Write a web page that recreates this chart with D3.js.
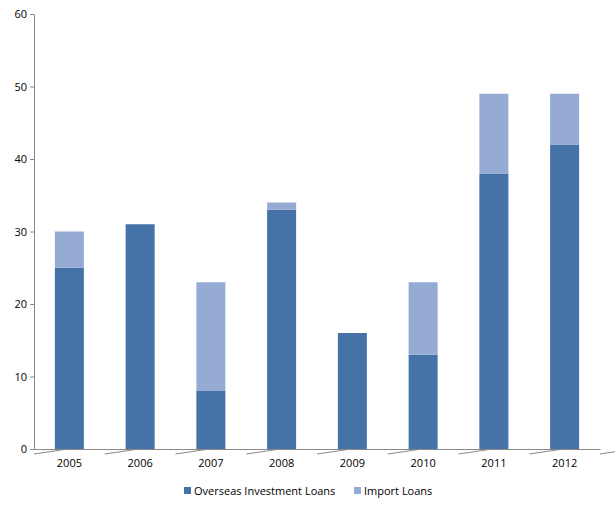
<!DOCTYPE html>
<html><head><meta charset="utf-8">
<script src="https://cdn.jsdelivr.net/npm/d3@7"></script>
<style>body{margin:0;background:#fff}text{font-family:"Open Sans",sans-serif;font-size:11px;fill:#000}</style>
</head><body><div id="wrapper"></div>
<script>
const years = ['2005','2006','2007','2008','2009','2010','2011','2012']
const overseas = [25, 31, 8, 33, 16, 13, 38, 42]
const imports = [5, 0, 15, 1, 0, 10, 11, 7]
const yTicks = [0, 10, 20, 30, 40, 50, 60]
const seriesNames = ['Overseas Investment Loans', 'Import Loans']
const colors = ['#4573a7', '#95abd3']

const width = 615, height = 511
const margin = {top: 14, right: 15, bottom: 62, left: 34}
const svg = d3.select('#wrapper').append('svg').attr('width', width).attr('height', height)

const x = d3.scaleBand().domain(years).range([margin.left, width - margin.right]).paddingInner(0.59).paddingOuter(0.295)
const y = d3.scaleLinear().domain([0, 60]).range([height - margin.bottom, margin.top])

const data = years.map((yr, i) => ({year: yr, a: overseas[i], b: imports[i]}))
const stacked = d3.stack().keys(['a', 'b'])(data)

svg.selectAll('g.series').data(stacked).join('g')
    .attr('fill', (d, i) => colors[i])
    .selectAll('rect').data(d => d).join('rect')
    .attr('x', d => x(d.data.year))
    .attr('width', x.bandwidth())
    .attr('y', d => y(d[1]))
    .attr('height', d => y(d[0]) - y(d[1]))

const yAxis = svg.append('g').attr('transform', `translate(${margin.left},0)`)
    .call(d3.axisLeft(y).tickValues(yTicks).tickSize(4).tickSizeOuter(0))
const xAxis = svg.append('g').attr('transform', `translate(0,${y(0)})`)
    .call(d3.axisBottom(x).tickSize(0).tickPadding(10))
// category boundary ticks
const step = x.step()
xAxis.selectAll('line.b').data(d3.range(years.length + 1)).join('line').attr('class', 'b')
    .attr('x1', i => margin.left + i * step * 0 + (x.range()[0] + i * (x.range()[1] - x.range()[0]) / years.length))
    .attr('x2', i => x.range()[0] + i * (x.range()[1] - x.range()[0]) / years.length)
    .attr('y1', 0).attr('y2', 5).attr('stroke', '#888')
svg.selectAll('.domain').attr('stroke', '#888')
svg.selectAll('.tick line').attr('stroke', '#888')
svg.selectAll('.tick text').style('font-size', '11px')

const legend = svg.append('g').attr('transform', `translate(184,491)`)
const offsets = [0, 170]
seriesNames.forEach((n, i) => {
    const g = legend.append('g').attr('transform', `translate(${offsets[i]},0)`)
    g.append('rect').attr('x', 0).attr('y', -4).attr('width', 7).attr('height', 7).attr('fill', colors[i])
    g.append('text').attr('x', 10).attr('y', 4).text(n)
})
</script></body></html>
